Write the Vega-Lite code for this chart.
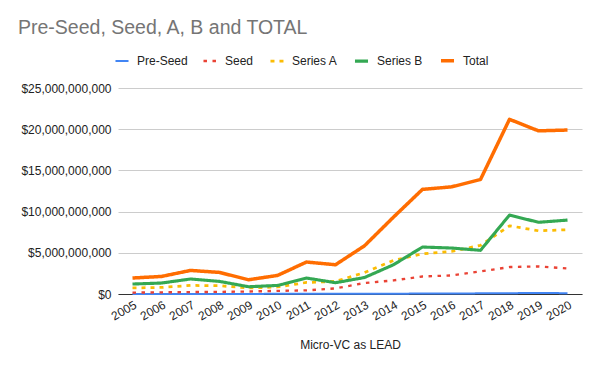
{
  "$schema": "https://vega.github.io/schema/vega-lite/v6.json",
  "autosize": "none",
  "width": 464,
  "height": 206,
  "padding": {"left": 118, "top": 88, "right": 18, "bottom": 77},
  "background": "white",
  "title": {
    "text": "Pre-Seed, Seed, A, B and TOTAL",
    "anchor": "start",
    "frame": "group",
    "dx": -100,
    "offset": 14,
    "fontSize": 19.5,
    "font": "Liberation Sans",
    "fontWeight": "normal",
    "color": "#757575"
  },
  "config": {
    "view": {"stroke": null},
    "font": "Liberation Sans"
  },
  "data": {
    "values": [
      {"year": "2005", "series": "Pre-Seed", "value": 10000000},
      {"year": "2006", "series": "Pre-Seed", "value": 10000000},
      {"year": "2007", "series": "Pre-Seed", "value": 10000000},
      {"year": "2008", "series": "Pre-Seed", "value": 10000000},
      {"year": "2009", "series": "Pre-Seed", "value": 10000000},
      {"year": "2010", "series": "Pre-Seed", "value": 20000000},
      {"year": "2011", "series": "Pre-Seed", "value": 20000000},
      {"year": "2012", "series": "Pre-Seed", "value": 20000000},
      {"year": "2013", "series": "Pre-Seed", "value": 30000000},
      {"year": "2014", "series": "Pre-Seed", "value": 40000000},
      {"year": "2015", "series": "Pre-Seed", "value": 50000000},
      {"year": "2016", "series": "Pre-Seed", "value": 60000000},
      {"year": "2017", "series": "Pre-Seed", "value": 80000000},
      {"year": "2018", "series": "Pre-Seed", "value": 100000000},
      {"year": "2019", "series": "Pre-Seed", "value": 120000000},
      {"year": "2020", "series": "Pre-Seed", "value": 100000000},
      {"year": "2005", "series": "Seed", "value": 170000000},
      {"year": "2006", "series": "Seed", "value": 200000000},
      {"year": "2007", "series": "Seed", "value": 230000000},
      {"year": "2008", "series": "Seed", "value": 260000000},
      {"year": "2009", "series": "Seed", "value": 300000000},
      {"year": "2010", "series": "Seed", "value": 380000000},
      {"year": "2011", "series": "Seed", "value": 440000000},
      {"year": "2012", "series": "Seed", "value": 680000000},
      {"year": "2013", "series": "Seed", "value": 1330000000},
      {"year": "2014", "series": "Seed", "value": 1650000000},
      {"year": "2015", "series": "Seed", "value": 2130000000},
      {"year": "2016", "series": "Seed", "value": 2250000000},
      {"year": "2017", "series": "Seed", "value": 2740000000},
      {"year": "2018", "series": "Seed", "value": 3270000000},
      {"year": "2019", "series": "Seed", "value": 3350000000},
      {"year": "2020", "series": "Seed", "value": 3100000000},
      {"year": "2005", "series": "Series A", "value": 730000000},
      {"year": "2006", "series": "Series A", "value": 800000000},
      {"year": "2007", "series": "Series A", "value": 1040000000},
      {"year": "2008", "series": "Series A", "value": 1000000000},
      {"year": "2009", "series": "Series A", "value": 730000000},
      {"year": "2010", "series": "Series A", "value": 850000000},
      {"year": "2011", "series": "Series A", "value": 1400000000},
      {"year": "2012", "series": "Series A", "value": 1530000000},
      {"year": "2013", "series": "Series A", "value": 2600000000},
      {"year": "2014", "series": "Series A", "value": 4070000000},
      {"year": "2015", "series": "Series A", "value": 4880000000},
      {"year": "2016", "series": "Series A", "value": 5170000000},
      {"year": "2017", "series": "Series A", "value": 5900000000},
      {"year": "2018", "series": "Series A", "value": 8280000000},
      {"year": "2019", "series": "Series A", "value": 7670000000},
      {"year": "2020", "series": "Series A", "value": 7800000000},
      {"year": "2005", "series": "Series B", "value": 1210000000},
      {"year": "2006", "series": "Series B", "value": 1330000000},
      {"year": "2007", "series": "Series B", "value": 1820000000},
      {"year": "2008", "series": "Series B", "value": 1530000000},
      {"year": "2009", "series": "Series B", "value": 880000000},
      {"year": "2010", "series": "Series B", "value": 1040000000},
      {"year": "2011", "series": "Series B", "value": 1940000000},
      {"year": "2012", "series": "Series B", "value": 1370000000},
      {"year": "2013", "series": "Series B", "value": 2000000000},
      {"year": "2014", "series": "Series B", "value": 3550000000},
      {"year": "2015", "series": "Series B", "value": 5700000000},
      {"year": "2016", "series": "Series B", "value": 5580000000},
      {"year": "2017", "series": "Series B", "value": 5300000000},
      {"year": "2018", "series": "Series B", "value": 9580000000},
      {"year": "2019", "series": "Series B", "value": 8700000000},
      {"year": "2020", "series": "Series B", "value": 8970000000},
      {"year": "2005", "series": "Total", "value": 1940000000},
      {"year": "2006", "series": "Total", "value": 2130000000},
      {"year": "2007", "series": "Total", "value": 2860000000},
      {"year": "2008", "series": "Total", "value": 2620000000},
      {"year": "2009", "series": "Total", "value": 1730000000},
      {"year": "2010", "series": "Total", "value": 2250000000},
      {"year": "2011", "series": "Total", "value": 3880000000},
      {"year": "2012", "series": "Total", "value": 3550000000},
      {"year": "2013", "series": "Total", "value": 5850000000},
      {"year": "2014", "series": "Total", "value": 9330000000},
      {"year": "2015", "series": "Total", "value": 12700000000},
      {"year": "2016", "series": "Total", "value": 13000000000},
      {"year": "2017", "series": "Total", "value": 13900000000},
      {"year": "2018", "series": "Total", "value": 21200000000},
      {"year": "2019", "series": "Total", "value": 19800000000},
      {"year": "2020", "series": "Total", "value": 19900000000}
    ]
  },
  "mark": {"type": "line", "strokeCap": "butt", "strokeJoin": "round"},
  "encoding": {
    "x": {
      "field": "year",
      "type": "ordinal",
      "scale": {"type": "point", "padding": 0.5},
      "axis": {
        "title": "Micro-VC as LEAD",
        "titleFontSize": 12,
        "titleFontWeight": "normal",
        "titleColor": "#222222",
        "titlePadding": 18,
        "labelAngle": -30,
        "labelFontSize": 12,
        "labelColor": "#222222",
        "labelPadding": 5,
        "labelOverlap": false,
        "ticks": false,
        "domainColor": "#333333",
        "domainWidth": 1,
        "grid": false
      }
    },
    "y": {
      "field": "value",
      "type": "quantitative",
      "scale": {"domain": [0, 25000000000], "nice": false},
      "axis": {
        "title": null,
        "values": [0, 5000000000, 10000000000, 15000000000, 20000000000, 25000000000],
        "format": "$,.0f",
        "labelFontSize": 12,
        "labelColor": "#222222",
        "labelPadding": 7,
        "ticks": false,
        "domain": false,
        "gridColor": "#cccccc",
        "gridWidth": 1
      }
    },
    "color": {
      "field": "series",
      "type": "nominal",
      "sort": ["Pre-Seed", "Seed", "Series A", "Series B", "Total"],
      "scale": {
        "domain": ["Pre-Seed", "Seed", "Series A", "Series B", "Total"],
        "range": ["#4285F4", "#EA4335", "#FBBC04", "#34A853", "#FF6D01"]
      },
      "legend": {
        "title": null,
        "orient": "none",
        "legendX": -4,
        "legendY": -36,
        "direction": "horizontal",
        "symbolType": "stroke",
        "symbolStrokeWidth": 4,
        "symbolSize": 170,
        "labelFontSize": 12,
        "labelColor": "#222222",
        "columnPadding": 10,
        "labelOffset": 7
      }
    },
    "strokeDash": {
      "field": "series",
      "type": "nominal",
      "sort": ["Pre-Seed", "Seed", "Series A", "Series B", "Total"],
      "scale": {
        "domain": ["Pre-Seed", "Seed", "Series A", "Series B", "Total"],
        "range": [[1, 0], [3.5, 5.5], [4, 5], [1, 0], [1, 0]]
      },
      "legend": {
        "title": null,
        "orient": "none",
        "legendX": -4,
        "legendY": -36,
        "direction": "horizontal",
        "symbolType": "stroke",
        "symbolStrokeWidth": 4,
        "symbolSize": 170,
        "labelFontSize": 12,
        "labelColor": "#222222",
        "columnPadding": 10,
        "labelOffset": 7
      }
    },
    "strokeWidth": {
      "field": "series",
      "type": "nominal",
      "scale": {
        "domain": ["Pre-Seed", "Seed", "Series A", "Series B", "Total"],
        "range": [2, 3.5, 4, 2, 4.5]
      },
      "legend": null
    }
  }
}
